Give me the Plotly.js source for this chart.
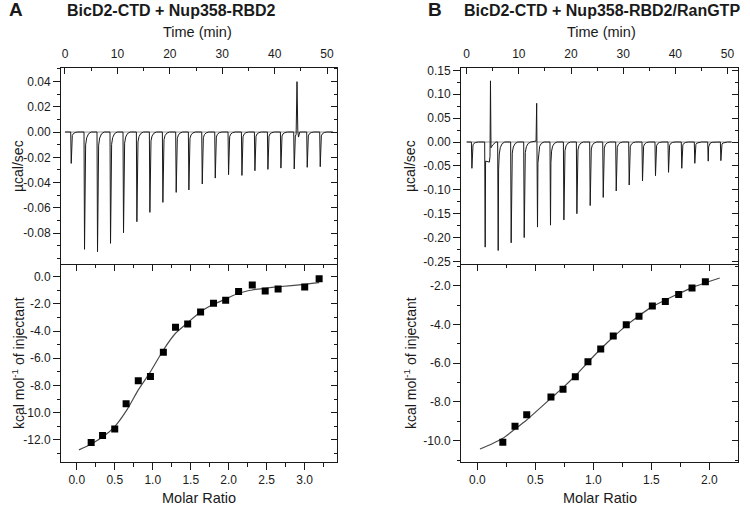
<!DOCTYPE html>
<html>
<head>
<meta charset="utf-8">
<script src="https://cdn.plot.ly/plotly-3.0.1.min.js"></script>
<style>
  html, body { margin: 0; padding: 0; background: #fff; }
  #chart { width: 750px; height: 506px; }
</style>
</head>
<body>
<div id="chart"></div>
<script>
// ITC figure: raw thermograms (top) and integrated heats with fit (bottom)

const FONT = '"Liberation Sans", Arial, sans-serif';
const INK = '#1a1a1a';

// ---- Panel A: BicD2-CTD + Nup358-RBD2 ----
const timeSpanA = [0, 51.1];
const injTimeA = [1.15, 3.69, 6.17, 8.65, 11.13, 13.68, 16.16, 18.64, 21.18, 23.6,
                  26.15, 28.63, 31.17, 33.72, 36.2, 38.68, 41.16, 43.7, 46.18, 48.66];
const injPeakA = [-0.0248, -0.0927, -0.0946, -0.088, -0.0796, -0.0709, -0.0635, -0.0556, -0.0477, -0.0458,
                  -0.0411, -0.0364, -0.0337, -0.0343, -0.0306, -0.0295, -0.0285, -0.0292, -0.0279, -0.0274];
// spikes that are not injections, as [time, µcal/sec]
const artifactA = [
    [[44.1, -0.002], [44.27, 0.0398], [44.42, 0.001], [44.55, -0.004], [44.8, 0]]
];
const ratioA = [0.19, 0.34, 0.50, 0.65, 0.81, 0.97, 1.14, 1.30, 1.46, 1.63, 1.80, 1.96, 2.13, 2.31, 2.48, 2.65, 3.00, 3.19];
const heatA = [-12.2, -11.69, -11.2, -9.34, -7.65, -7.35, -5.56, -3.72, -3.48, -2.6, -1.96, -1.74, -1.08, -0.61, -1.05, -0.9, -0.76, -0.15];
const fitRatioA = [0.03, 0.19, 0.35, 0.50, 0.66, 0.81, 0.97, 1.14, 1.30, 1.46, 1.63, 1.80, 1.96, 2.13, 2.31, 2.48, 2.65, 3.00, 3.19];
const fitHeatA = [-12.74, -12.3, -11.76, -11.03, -9.8, -8.33, -6.99, -5.39, -4.16, -3.38, -2.57, -2.03, -1.64, -1.22, -0.98, -0.85, -0.74, -0.56, -0.44];

// ---- Panel B: BicD2-CTD + Nup358-RBD2/RanGTP ----
const timeSpanB = [0, 50.8];
const injTimeB = [0.96, 3.51, 6.0, 8.49, 10.99, 13.54, 16.03, 18.6, 21.09, 23.64,
                  26.14, 28.63, 31.12, 33.67, 36.16, 38.66, 41.2, 43.7, 46.27, 48.7];
const injPeakB = [-0.055, -0.220, -0.227, -0.211, -0.200, -0.178, -0.174, -0.163, -0.150, -0.133,
                  -0.116, -0.1025, -0.090, -0.0816, -0.0705, -0.0634, -0.055, -0.0446, -0.040, -0.039];
const artifactB = [
    [[3.62, -0.04], [4.35, -0.042], [4.47, -0.03], [4.56, 0.128], [4.66, -0.012], [5.0, -0.006], [5.6, 0]],
    [[13.3, 0.002], [13.42, 0.081], [13.49, 0]]
];
const ratioB = [0.22, 0.325, 0.426, 0.635, 0.739, 0.845, 0.954, 1.064, 1.172, 1.284, 1.394, 1.509, 1.621, 1.736, 1.851, 1.966];
const heatB = [-10.08, -9.26, -8.66, -7.74, -7.35, -6.70, -5.92, -5.27, -4.6, -4.01, -3.58, -3.05, -2.81, -2.46, -2.12, -1.79];
const fitRatioB = [0.023, 0.124, 0.22, 0.325, 0.426, 0.635, 0.739, 0.845, 0.954, 1.064, 1.172, 1.284, 1.394, 1.509, 1.621, 1.736, 1.851, 1.966, 2.09];
const fitHeatB = [-10.43, -10.17, -9.88, -9.4, -8.93, -7.81, -7.26, -6.65, -5.95, -5.27, -4.65, -4.06, -3.55, -3.08, -2.74, -2.41, -2.10, -1.85, -1.6];

// shape of one injection peak: [minutes after injection, fraction of peak]
const PEAK_SHAPE = [[-0.06, 0], [0.04, 1], [0.12, 0.25], [0.25, 0.11], [0.45, 0.05], [0.8, 0.015], [1.3, 0]];

function thermogram(span, times, peaks, artifacts) {
    let pts = [[span[0], 0]];
    times.forEach((t, i) => {
        PEAK_SHAPE.forEach(([dt, f]) => pts.push([t + dt, peaks[i] * f]));
    });
    pts.push([span[1], 0]);
    // artifacts replace whatever the template put in their time window
    artifacts.forEach(seg => {
        const lo = seg[0][0], hi = seg[seg.length - 1][0];
        pts = pts.filter(p => p[0] < lo || p[0] > hi).concat(seg);
    });
    pts.sort((a, b) => a[0] - b[0]);
    return { x: pts.map(p => p[0]), y: pts.map(p => p[1]) };
}

function steps(lo, hi, d) {
    const out = [];
    const start = Math.ceil(lo / d - 1e-6) * d;
    for (let v = start; v <= hi + d / 1000; v += d) out.push(Math.round(v * 1e6) / 1e6);
    return out;
}

function majorTicks(lo, hi, d, digits, hidden) {
    const vals = steps(lo, hi, d).filter(v => !(hidden || []).includes(v));
    return {
        tickmode: 'array',
        tickvals: vals,
        ticktext: vals.map(v => v.toFixed(digits))
    };
}

function axis(range, major, minorStep, side, inside, extra) {
    const dir = inside ? 'inside' : 'outside';
    return Object.assign({
        range: range,
        side: side,
        showline: true,
        linecolor: INK,
        linewidth: 1,
        showgrid: false,
        zeroline: false,
        ticks: dir,
        ticklen: inside ? 6 : 7,
        tickwidth: 1,
        tickcolor: INK,
        tickfont: { family: FONT, size: 12, color: INK },
        minor: {
            tickmode: 'array',
            tickvals: steps(range[0], range[1], minorStep),
            ticks: dir,
            ticklen: 3.5,
            tickwidth: 1,
            tickcolor: INK,
            showgrid: false
        },
        fixedrange: true
    }, major, extra);
}

// plot frames in paper units
const XA = [61 / 750, 337 / 750];
const XB = [461 / 750, 738 / 750];
const YTOP = [1 - 264.5 / 506, 1 - 67.5 / 506];
const YBOT = [1 - 462 / 506, 1 - 264.5 / 506];

const rTimeA = [-0.76, 51.9], rRawA = [-0.1047, 0.051], rRatioA = [-0.207, 3.425], rHeatA = [-13.63, 0.897];
const rTimeB = [-1.09, 52.02], rRawB = [-0.2563, 0.1559], rRatioB = [-0.1405, 2.2474], rHeatB = [-11.1, -0.906];

// the -0.10 tick of panel A's top plot has no label, so it only shows as a minor tick
const tRawA = majorTicks(-0.08, 0.04, 0.02, 2);
const tHeatA = majorTicks(-12, 0, 2, 1);
const tRatioA = majorTicks(0, 3, 0.5, 1);
const tTime = majorTicks(0, 50, 10, 0);
const tRawB = majorTicks(-0.25, 0.15, 0.05, 2);
const tHeatB = majorTicks(-10, -2, 2, 1);
const tRatioB = majorTicks(0, 2, 0.5, 1);

const rawA = thermogram(timeSpanA, injTimeA, injPeakA, artifactA);
const rawB = thermogram(timeSpanB, injTimeB, injPeakB, artifactB);

const traces = [];

function addPanel(span, raw, ratio, heat, fitX, fitY, ax) {
    traces.push({
        x: span, y: [0, 0], xaxis: ax.top[0], yaxis: ax.top[1],
        mode: 'lines', line: { color: '#9a9a9a', width: 1 }, hoverinfo: 'skip'
    });
    traces.push({
        x: raw.x, y: raw.y, xaxis: ax.top[0], yaxis: ax.top[1],
        mode: 'lines', line: { color: INK, width: 1 }
    });
    traces.push({
        x: fitX, y: fitY, xaxis: ax.bot[0], yaxis: ax.bot[1],
        mode: 'lines', line: { color: '#4a4a4a', width: 1.2, shape: 'spline', smoothing: 0.6 }
    });
    traces.push({
        x: ratio, y: heat, xaxis: ax.bot[0], yaxis: ax.bot[1],
        mode: 'markers', marker: { symbol: 'square', size: 7, color: '#000' }
    });
}

addPanel(timeSpanA, rawA, ratioA, heatA, fitRatioA, fitHeatA, { top: ['x', 'y'], bot: ['x2', 'y2'] });
addPanel(timeSpanB, rawB, ratioB, heatB, fitRatioB, fitHeatB, { top: ['x3', 'y3'], bot: ['x4', 'y4'] });

// empty traces so the mirror (frame) axes get drawn
[['x', 'y5'], ['x2', 'y6'], ['x3', 'y7'], ['x4', 'y8'], ['x5', 'y2'], ['x6', 'y4']].forEach(([xa, ya]) => {
    traces.push({ x: [], y: [], xaxis: xa, yaxis: ya, mode: 'lines', hoverinfo: 'skip' });
});

function note(text, px, py, size, extra) {
    return Object.assign({
        text: text, xref: 'paper', yref: 'paper', x: px / 750, y: 1 - py / 506,
        xanchor: 'center', yanchor: 'middle', showarrow: false,
        font: { family: FONT, size: size, color: INK }
    }, extra);
}

const noLabels = { showticklabels: false };

const layout = {
    width: 750,
    height: 506,
    margin: { l: 0, r: 0, t: 0, b: 0 },
    paper_bgcolor: '#fff',
    plot_bgcolor: '#fff',
    showlegend: false,
    font: { family: FONT, color: INK },

    // panel A
    xaxis: axis(rTimeA, tTime, 5, 'top', true, { domain: XA, anchor: 'y', ticklabelstandoff: 4 }),
    yaxis: axis(rRawA, tRawA, 0.01, 'left', false, { domain: YTOP, anchor: 'x' }),
    xaxis2: axis(rRatioA, tRatioA, 0.25, 'bottom', false, { domain: XA, anchor: 'y2' }),
    yaxis2: axis(rHeatA, tHeatA, 1, 'left', false, { domain: YBOT, anchor: 'x2' }),
    yaxis5: axis(rRawA, tRawA, 0.01, 'right', true, Object.assign({ overlaying: 'y', anchor: 'x' }, noLabels)),
    yaxis6: axis(rHeatA, tHeatA, 1, 'right', true, Object.assign({ overlaying: 'y2', anchor: 'x2' }, noLabels)),
    xaxis5: axis(rRatioA, tRatioA, 0.25, 'top', true, Object.assign({ overlaying: 'x2', anchor: 'y2' }, noLabels)),

    // panel B
    xaxis3: axis(rTimeB, tTime, 5, 'top', true, { domain: XB, anchor: 'y3', ticklabelstandoff: 4 }),
    yaxis3: axis(rRawB, tRawB, 0.025, 'left', false, { domain: YTOP, anchor: 'x3' }),
    xaxis4: axis(rRatioB, tRatioB, 0.25, 'bottom', false, { domain: XB, anchor: 'y4' }),
    yaxis4: axis(rHeatB, tHeatB, 1, 'left', false, { domain: YBOT, anchor: 'x4' }),
    yaxis7: axis(rRawB, tRawB, 0.025, 'right', true, Object.assign({ overlaying: 'y3', anchor: 'x3' }, noLabels)),
    yaxis8: axis(rHeatB, tHeatB, 1, 'right', true, Object.assign({ overlaying: 'y4', anchor: 'x4' }, noLabels)),
    xaxis6: axis(rRatioB, tRatioB, 0.25, 'top', true, Object.assign({ overlaying: 'x4', anchor: 'y4' }, noLabels)),

    annotations: [
        note('<b>A</b>', 16, 10, 19),
        note('<b>BicD2-CTD + Nup358-RBD2</b>', 171, 11, 16),
        note('<b>B</b>', 435, 10, 19),
        note('<b>BicD2-CTD + Nup358-RBD2/RanGTP</b>', 602, 11, 16),
        note('Time (min)', 197.5, 32.5, 14.5),
        note('Time (min)', 601, 32.5, 14.5),
        note('Molar Ratio', 199, 497.5, 14.5),
        note('Molar Ratio', 600, 497.5, 14.5),
        note('µcal/sec', 18, 166, 14, { textangle: -90 }),
        note('kcal mol<sup>-1</sup> of injectant', 18, 363, 14, { textangle: -90 }),
        note('µcal/sec', 410, 166, 14, { textangle: -90 }),
        note('kcal mol<sup>-1</sup> of injectant', 410, 363, 14, { textangle: -90 })
    ]
};

Plotly.newPlot('chart', traces, layout, { displayModeBar: false, responsive: false });
</script>
</body>
</html>
